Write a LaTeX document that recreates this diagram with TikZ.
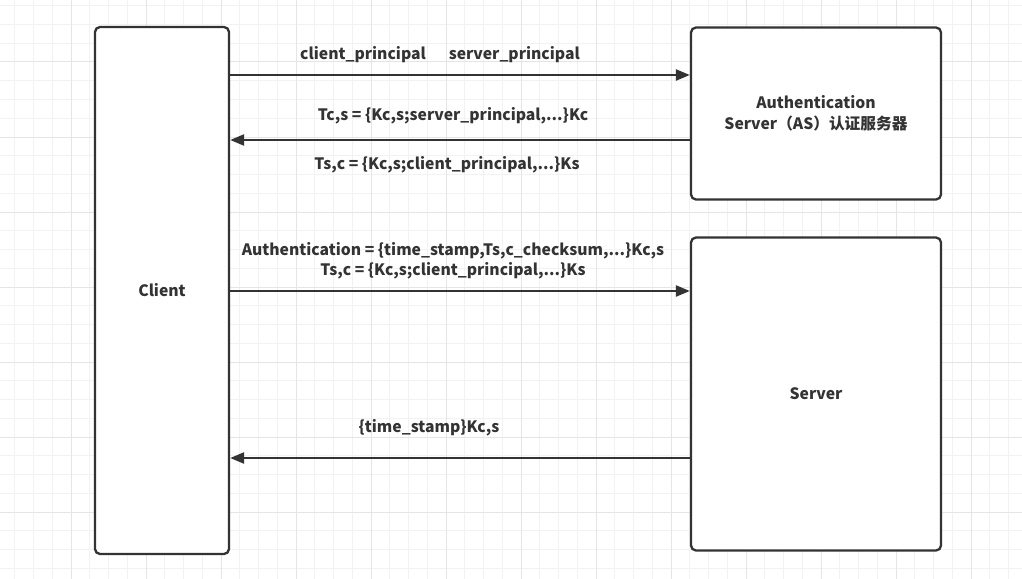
\documentclass[tikz,border=0pt]{standalone}
\usepackage{fontspec}
\setmainfont{Noto Sans CJK SC}
\usetikzlibrary{arrows.meta, positioning}
\definecolor{ink}{HTML}{333333}
\definecolor{gridminor}{HTML}{F2F2F2}
\definecolor{gridmajor}{HTML}{E5E5E5}

\begin{document}
\begin{tikzpicture}[
        x=1pt, y=-1pt,
        box/.style={rectangle, draw=ink, line width=2.3pt, rounded corners=5pt, fill=white, align=center, font=\bfseries\fontsize{15.7}{21}\selectfont, text=ink},
        lbl/.style={align=center, font=\bfseries\fontsize{15.7}{20.5}\selectfont, text=ink, inner sep=0pt},
        arr/.style={-{Triangle[length=14pt, width=11pt]}, line width=2.3pt, draw=ink},
        gridline/.style={draw=gridminor, line width=1pt}
        ]
        % background and grid
        \fill[white] (0,0) rectangle (1022,578);
        \useasboundingbox (0,0) rectangle (1022,578);
        \draw[gridline, step=18.75pt, shift={(-4,-13)}] (-20,-20) grid (1050,620);
        \draw[gridline, draw=gridmajor, step=75pt, shift={(-4,-13)}] (-20,-20) grid (1050,620);

        \node[box, minimum width=134pt, minimum height=527pt] (client) at (162,290.5) {Client};
        \node[box, minimum width=250pt, minimum height=172pt] (as) at (816,113.5) {Authentication\\Server（AS）认证服务器};
        \node[box, minimum width=250pt, minimum height=313pt] (server) at (816,394) {Server};

        \node[lbl] (req)  at (440,55)  {client\_principal\quad\ \ server\_principal};
        \node[lbl] (tcs)  at (453,116) {Tc,s = \{Kc,s;server\_principal,...\}Kc};
        \node[lbl] (tsc)  at (447,165) {Ts,c = \{Kc,s;client\_principal,...\}Ks};
        \node[lbl] (auth) at (453,261) {Authentication = \{time\_stamp,Ts,c\_checksum,...\}Kc,s\\Ts,c = \{Kc,s;client\_principal,...\}Ks};
        \node[lbl] (ts)   at (429,428) {\{time\_stamp\}Kc,s};

        \draw[arr] (client.east |- 0,75) -- (as.west |- 0,75);
        \draw[arr] (as.west |- 0,140) -- (client.east |- 0,140);
        \draw[arr] (client.east |- 0,291) -- (server.west |- 0,291);
        \draw[arr] (server.west |- 0,458) -- (client.east |- 0,458);
    \end{tikzpicture}
\end{document}
